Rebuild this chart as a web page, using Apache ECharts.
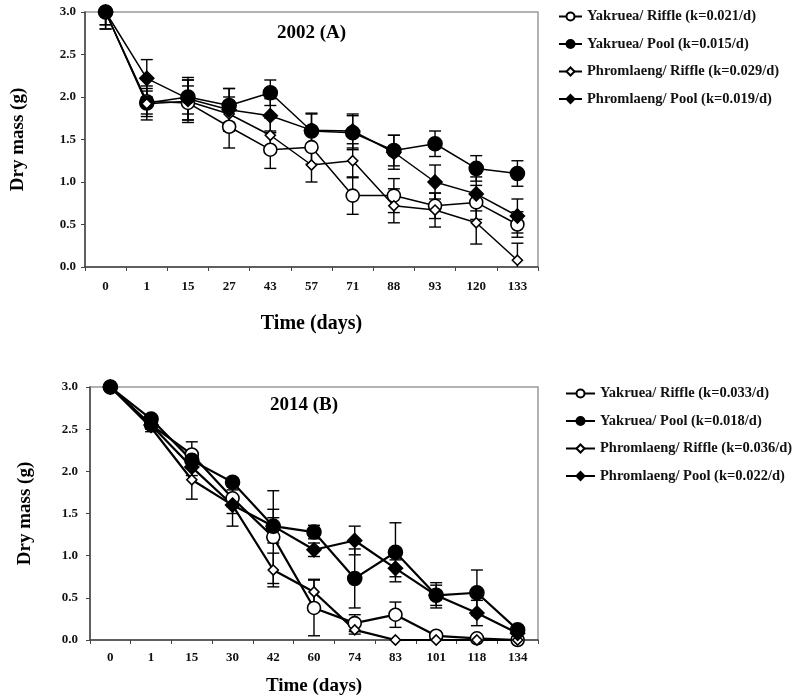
<!DOCTYPE html>
<html>
<head>
<meta charset="utf-8">
<script src="https://cdn.jsdelivr.net/npm/echarts@6/dist/echarts.min.js"></script>
<style>html,body{margin:0;padding:0;background:#fff;}#c{width:796px;height:698px;}</style>
</head>
<body>
<div id="c"></div>
<script>
// ---- Data: panel A (2002) ----
const catsA = ['0','1','15','27','43','57','71','88','93','120','133'];
const namesA = ['Yakruea/ Riffle (k=0.021/d)','Yakruea/ Pool (k=0.015/d)','Phromlaeng/ Riffle (k=0.029/d)','Phromlaeng/ Pool (k=0.019/d)'];
const yakRiffleA = [3.0, 1.95, 1.93, 1.65, 1.38, 1.41, 0.84, 0.84, 0.72, 0.76, 0.50];
const yakPoolA   = [3.0, 1.93, 2.00, 1.90, 2.05, 1.60, 1.58, 1.37, 1.45, 1.16, 1.10];
const phrRiffleA = [3.0, 1.92, 1.95, 1.80, 1.55, 1.20, 1.25, 0.72, 0.67, 0.52, 0.08];
const phrPoolA   = [3.0, 2.22, 1.98, 1.85, 1.78, 1.61, 1.60, 1.35, 1.00, 0.86, 0.60];
const yakRiffleErrA = [0.20, 0.15, 0.20, 0.25, 0.22, 0.20, 0.22, 0.20, 0.15, 0.20, 0.15];
const yakPoolErrA   = [0.20, 0.20, 0.20, 0.20, 0.15, 0.20, 0.20, 0.18, 0.15, 0.15, 0.15];
const phrRiffleErrA = [0.15, 0.15, 0.25, 0.20, 0.20, 0.20, 0.20, 0.20, 0.20, 0.25, 0.20];
const phrPoolErrA   = [0.15, 0.22, 0.25, 0.25, 0.20, 0.20, 0.20, 0.20, 0.20, 0.20, 0.20];

// ---- Data: panel B (2014) ----
const catsB = ['0','1','15','30','42','60','74','83','101','118','134'];
const namesB = ['Yakruea/ Riffle (k=0.033/d)','Yakruea/ Pool (k=0.018/d)','Phromlaeng/ Riffle (k=0.036/d)','Phromlaeng/ Pool (k=0.022/d)'];
const yakRiffleB = [3.0, 2.55, 2.20, 1.68, 1.22, 0.38, 0.20, 0.30, 0.05, 0.02, 0.00];
const yakPoolB   = [3.0, 2.62, 2.13, 1.87, 1.35, 1.28, 0.73, 1.04, 0.53, 0.56, 0.12];
const phrRiffleB = [3.0, 2.52, 1.90, 1.60, 0.83, 0.57, 0.12, 0.00, 0.00, 0.00, 0.00];
const phrPoolB   = [3.0, 2.55, 2.05, 1.60, 1.35, 1.07, 1.18, 0.85, 0.53, 0.32, 0.08];
const yakRiffleErrB = [0.00, 0.05, 0.15, 0.10, 0.55, 0.33, 0.10, 0.15, 0.03, 0.02, 0.02];
const yakPoolErrB   = [0.00, 0.05, 0.08, 0.05, 0.10, 0.08, 0.35, 0.35, 0.12, 0.27, 0.05];
const phrRiffleErrB = [0.00, 0.05, 0.23, 0.10, 0.20, 0.15, 0.05, 0.00, 0.00, 0.00, 0.00];
const phrPoolErrB   = [0.00, 0.05, 0.10, 0.25, 0.20, 0.08, 0.17, 0.10, 0.15, 0.15, 0.05];

const yTicks = [0, 0.5, 1.0, 1.5, 2.0, 2.5, 3.0];

const FONT = 'Liberation Serif';
const chart = echarts.init(document.getElementById('c'), null, {renderer:'canvas'});

const styles = [
  {symbol:'circle', size:13, fill:'#fff'},
  {symbol:'circle', size:14, fill:'#000'},
  {symbol:'diamond', size:10, fill:'#fff'},
  {symbol:'diamond', size:14, fill:'#000'}
];

function lineSeries(name, data, st, idx, lw) {
  return {
    type:'line', name:name, xAxisIndex:idx, yAxisIndex:idx, data:data,
    symbol:st.symbol, symbolSize:st.size, showAllSymbol:true,
    lineStyle:{color:'#000', width:lw},
    itemStyle:{color:st.fill, borderColor:'#000', borderWidth:1.6},
    z:3, animation:false
  };
}
function errSeries(vals, errs, idx) {
  return {
    type:'custom', xAxisIndex:idx, yAxisIndex:idx, z:2, animation:false, silent:true,
    clip:true,
    data: vals.map((v,i)=>[i, v, errs[i]]),
    renderItem: function(params, api){
      const i = api.value(0), v = api.value(1), e = api.value(2);
      if (!e) return null;
      const top = api.coord([i, v + e]);
      const bot = api.coord([i, v - e]);
      const w = 6;
      const st = {stroke:'#000', lineWidth:1.4};
      return {type:'group', children:[
        {type:'line', shape:{x1:top[0], y1:top[1], x2:bot[0], y2:bot[1]}, style:st},
        {type:'line', shape:{x1:top[0]-w, y1:top[1], x2:top[0]+w, y2:top[1]}, style:st},
        {type:'line', shape:{x1:bot[0]-w, y1:bot[1], x2:bot[0]+w, y2:bot[1]}, style:st}
      ]};
    }
  };
}

function xAxisDef(idx, cats, gap, margin, nameSize) {
  return {
    type:'category', gridIndex:idx, data:cats, boundaryGap:true,
    name:'Time (days)', nameLocation:'middle', nameGap:gap,
    nameTextStyle:{fontFamily:FONT, fontWeight:'bold', fontSize:nameSize, color:'#000'},
    axisLine:{lineStyle:{color:'#444', width:1.5}},
    axisTick:{show:true, length:4, lineStyle:{color:'#444'}},
    axisLabel:{fontFamily:FONT, fontWeight:'bold', fontSize:13, color:'#111', margin:margin},
    splitLine:{show:false}
  };
}
function yAxisDef(idx, gap, margin) {
  return {
    type:'value', gridIndex:idx, min:0, max:3, interval:0.5,
    name:'Dry mass (g)', nameLocation:'middle', nameGap:gap,
    nameTextStyle:{fontFamily:FONT, fontWeight:'bold', fontSize:19, color:'#000'},
    axisLine:{show:true, lineStyle:{color:'#444', width:1.5}},
    axisTick:{show:true, length:4, lineStyle:{color:'#444'}},
    axisLabel:{fontFamily:FONT, fontWeight:'bold', fontSize:13, color:'#111', margin:margin,
      formatter: v => yTicks.indexOf(v) >= 0 ? v.toFixed(1) : ''},
    splitLine:{show:false}
  };
}

const legendText = {fontFamily:FONT, fontWeight:'bold', fontSize:14.5, color:'#111'};

const option = {
  backgroundColor:'#fff',
  animation:false,
  title:[
    {text:'2002 (A)', left:272, top:19, textStyle:{fontFamily:FONT, fontWeight:'bold', fontSize:19, color:'#000'}},
    {text:'2014 (B)', left:265, top:391, textStyle:{fontFamily:FONT, fontWeight:'bold', fontSize:19, color:'#000'}}
  ],
  legend:[
    {data:namesA, orient:'vertical', left:553, top:4, itemGap:12.5, itemWidth:23, itemHeight:10,
     textStyle:legendText, selectedMode:false},
    {data:namesB, orient:'vertical', left:560, top:381, itemGap:12.5, itemWidth:29, itemHeight:10,
     textStyle:legendText, selectedMode:false}
  ],
  grid:[
    {left:85, top:12, right:258, bottom:431, show:true, borderColor:'#999', borderWidth:1.5, backgroundColor:'transparent'},
    {left:90, top:387, right:258, bottom:58, show:true, borderColor:'#999', borderWidth:1.5, backgroundColor:'transparent'}
  ],
  xAxis:[xAxisDef(0, catsA, 47, 13, 20), xAxisDef(1, catsB, 37, 11, 19)],
  yAxis:[yAxisDef(0, 57, 9), yAxisDef(1, 55, 12)],
  series:[
    errSeries(yakRiffleA, yakRiffleErrA, 0),
    errSeries(yakPoolA, yakPoolErrA, 0),
    errSeries(phrRiffleA, phrRiffleErrA, 0),
    errSeries(phrPoolA, phrPoolErrA, 0),
    lineSeries(namesA[0], yakRiffleA, styles[0], 0, 1.5),
    lineSeries(namesA[1], yakPoolA, styles[1], 0, 1.5),
    lineSeries(namesA[2], phrRiffleA, styles[2], 0, 1.5),
    lineSeries(namesA[3], phrPoolA, styles[3], 0, 1.5),
    errSeries(yakRiffleB, yakRiffleErrB, 1),
    errSeries(yakPoolB, yakPoolErrB, 1),
    errSeries(phrRiffleB, phrRiffleErrB, 1),
    errSeries(phrPoolB, phrPoolErrB, 1),
    lineSeries(namesB[0], yakRiffleB, styles[0], 1, 2.2),
    lineSeries(namesB[1], yakPoolB, styles[1], 1, 2.2),
    lineSeries(namesB[2], phrRiffleB, styles[2], 1, 2.2),
    lineSeries(namesB[3], phrPoolB, styles[3], 1, 2.2)
  ]
};
chart.setOption(option);
</script>
</body>
</html>
